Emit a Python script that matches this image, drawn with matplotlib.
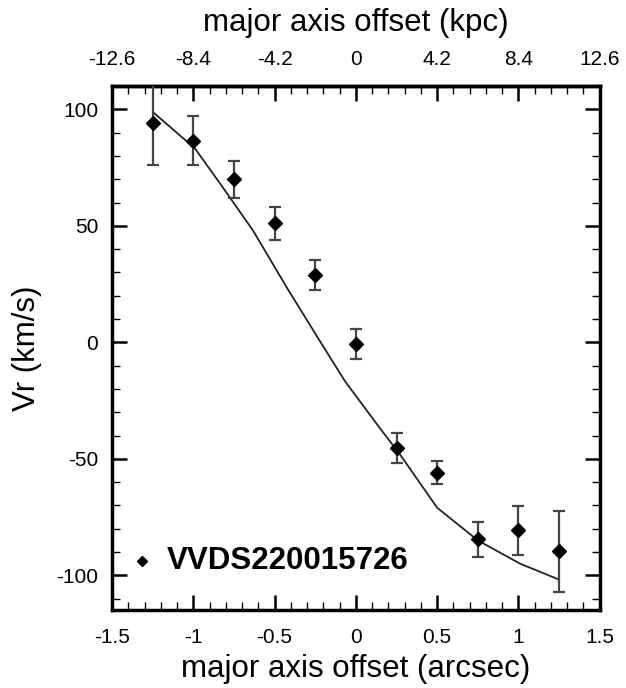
import matplotlib
matplotlib.use("Agg")
import matplotlib.pyplot as plt
from matplotlib.ticker import MultipleLocator, FixedLocator, FixedFormatter

plt.rcParams['font.family'] = ['Liberation Sans', 'DejaVu Sans']
plt.rcParams['axes.unicode_minus'] = False

# data
x_obs = [-1.25, -1.0, -0.75, -0.5, -0.25, 0.0, 0.25, 0.5, 0.75, 1.0, 1.25]
v_obs = [94, 86.5, 70, 51, 29, -0.6, -45.4, -56, -84.5, -80.6, -89.7]
v_err = [18, 10.5, 8, 7, 6.5, 6.5, 6.4, 5, 7.5, 10.5, 17.5]

x_model = [-1.24, -0.99, -0.836, -0.633, -0.424, -0.222, -0.068, 0.147, 0.27, 0.5, 0.75, 1.01, 1.245]
v_model = [98.3, 83.2, 68.2, 48.0, 23.4, 0.6, -16.6, -36.8, -48.0, -71, -85, -95, -101.7]

kpc_ticks = ["-12.6", "-8.4", "-4.2", "0", "4.2", "8.4", "12.6"]
arc_ticks = [-1.5, -1.0, -0.5, 0.0, 0.5, 1.0, 1.5]
arc_labels = ["-1.5", "-1", "-0.5", "0", "0.5", "1", "1.5"]
label = "VVDS220015726"

fig = plt.figure(figsize=(6.26, 6.88), dpi=100)
ax = fig.add_axes([0.179, 0.113, 0.779, 0.762])

ax.plot(x_model, v_model, color='#222222', lw=1.3, zorder=2)
ax.errorbar(x_obs, v_obs, yerr=v_err, fmt='none', ecolor='#444444',
            elinewidth=1.6, capsize=4.5, capthick=1.6, zorder=3)
ax.plot(x_obs, v_obs, 'D', color='black', ms=7, zorder=4)

ax.set_xlim(-1.5, 1.5)
ax.set_ylim(-115, 110)

ax.xaxis.set_major_locator(FixedLocator(arc_ticks))
ax.xaxis.set_major_formatter(FixedFormatter(arc_labels))
ax.xaxis.set_minor_locator(MultipleLocator(0.1))
ax.yaxis.set_major_locator(MultipleLocator(50))
ax.yaxis.set_minor_locator(MultipleLocator(10))

ax.tick_params(which='both', direction='in', top=False, right=True, labelsize=15)
ax.tick_params(which='major', length=11, width=1.8)
ax.tick_params(which='minor', length=6, width=1.0)
ax.tick_params(axis='x', which='major', pad=13)
ax.tick_params(axis='y', which='major', pad=10)

for s in ax.spines.values():
    s.set_linewidth(2.5)

ax.set_xlabel("major axis offset (arcsec)", fontsize=22.5, labelpad=5)
ax.set_ylabel("Vr (km/s)", fontsize=22.5, labelpad=10)

# top axis in kpc
top = ax.secondary_xaxis('top')
top.xaxis.set_major_locator(FixedLocator(arc_ticks))
top.xaxis.set_major_formatter(FixedFormatter(kpc_ticks))
top.xaxis.set_minor_locator(MultipleLocator(0.1))
top.tick_params(which='both', direction='in', labelsize=15)
top.tick_params(which='major', length=11, width=1.8, pad=12)
top.tick_params(which='minor', length=6, width=1.0)
top.spines['top'].set_linewidth(2.5)
top.set_xlabel("major axis offset (kpc)", fontsize=22.5, labelpad=14)

# legend-like label
ax.plot([-1.316], [-94], 'D', color='black', ms=5.5)
ax.text(-1.165, -94, label, fontsize=22.5, fontweight='bold', va='center', ha='left')

fig.savefig("out.png", dpi=100)
